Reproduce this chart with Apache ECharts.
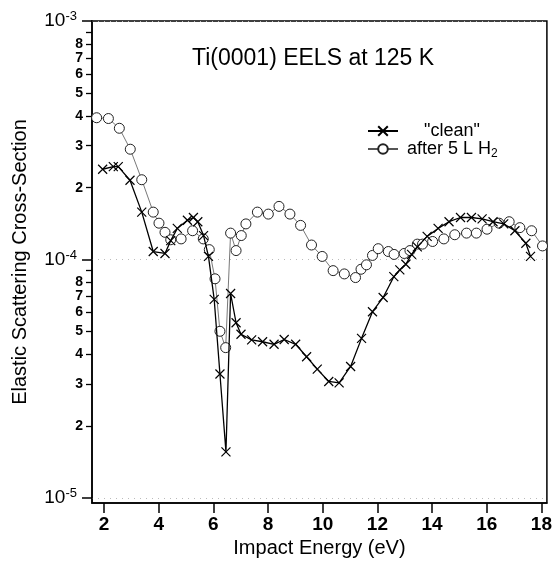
<!DOCTYPE html>
<html><head><meta charset="utf-8">
<script src="https://cdn.jsdelivr.net/npm/echarts@6/dist/echarts.min.js"></script>
<style>html,body{margin:0;padding:0;background:#fff}#c{width:555px;height:568px}</style>
</head><body><div id="c"></div>
<script>
// "clean" series
const cleanE = [1.95,2.34,2.52,2.95,3.38,3.80,4.23,4.44,4.68,5.05,5.27,5.43,5.64,5.82,6.03,6.24,6.46,6.63,6.83,7.01,7.40,7.80,8.22,8.59,9.01,9.41,9.80,10.22,10.60,11.02,11.42,11.82,12.21,12.60,12.82,13.04,13.25,13.46,13.82,14.22,14.62,15.04,15.44,15.83,16.23,16.62,17.03,17.43,17.60];
const cleanV = [2.39e-4,2.45e-4,2.45e-4,2.15e-4,1.58e-4,1.08e-4,1.06e-4,1.20e-4,1.35e-4,1.46e-4,1.50e-4,1.44e-4,1.26e-4,1.03e-4,6.8e-5,3.31e-5,1.56e-5,7.2e-5,5.43e-5,4.86e-5,4.60e-5,4.52e-5,4.41e-5,4.62e-5,4.41e-5,3.91e-5,3.47e-5,3.08e-5,3.04e-5,3.56e-5,4.67e-5,6.04e-5,6.93e-5,8.47e-5,9.04e-5,9.55e-5,1.05e-4,1.13e-4,1.25e-4,1.35e-4,1.44e-4,1.50e-4,1.50e-4,1.48e-4,1.44e-4,1.41e-4,1.32e-4,1.17e-4,1.03e-4];
// "after 5 L H2" series
const h2E = [1.73,2.16,2.56,2.96,3.38,3.80,4.01,4.23,4.44,4.82,5.24,5.63,5.85,6.06,6.24,6.45,6.63,6.83,7.02,7.19,7.61,8.01,8.40,8.80,9.19,9.59,9.98,10.38,10.79,11.20,11.40,11.60,11.82,12.03,12.40,12.61,12.98,13.19,13.46,13.65,14.02,14.43,14.83,15.26,15.62,16.01,16.45,16.82,17.21,17.64,18.04];
const h2V = [3.93e-4,3.90e-4,3.55e-4,2.90e-4,2.16e-4,1.58e-4,1.42e-4,1.30e-4,1.21e-4,1.22e-4,1.32e-4,1.22e-4,1.10e-4,8.3e-5,5.0e-5,4.27e-5,1.29e-4,1.09e-4,1.26e-4,1.41e-4,1.58e-4,1.55e-4,1.67e-4,1.55e-4,1.39e-4,1.15e-4,1.03e-4,8.98e-5,8.7e-5,8.4e-5,9.1e-5,9.5e-5,1.04e-4,1.11e-4,1.08e-4,1.05e-4,1.06e-4,1.09e-4,1.16e-4,1.16e-4,1.19e-4,1.22e-4,1.27e-4,1.29e-4,1.29e-4,1.34e-4,1.42e-4,1.44e-4,1.36e-4,1.32e-4,1.14e-4];

const xTicks = [2,4,6,8,10,12,14,16,18];
const yMajor = [1e-5,1e-4,1e-3];
const yMinorTicks = [2e-5,3e-5,4e-5,5e-5,6e-5,7e-5,8e-5,9e-5,2e-4,3e-4,4e-4,5e-4,6e-4,7e-4,8e-4,9e-4];
const yMinorLabels = [2e-5,3e-5,4e-5,5e-5,6e-5,7e-5,8e-5,2e-4,3e-4,4e-4,5e-4,6e-4,7e-4,8e-4];

const FONT = '"Liberation Sans", Arial, Helvetica, sans-serif';
const chart = echarts.init(document.getElementById('c'));
const zip = (a, b) => a.map((x, i) => [x, b[i]]);
const yMin = Math.pow(10, -5.021), yMax = 1e-3;

chart.setOption({
  animation: false,
  backgroundColor: '#fff',
  textStyle: { fontFamily: FONT, color: '#000' },
  title: {
    text: 'Ti(0001) EELS at 125 K', left: 192, top: 47, padding: 0,
    textStyle: { fontFamily: FONT, fontSize: 23, fontWeight: 'normal', color: '#000' }
  },
  legend: [
    { data: ['"clean"'], left: 367, top: 122, padding: 0, itemWidth: 30, itemHeight: 12,
      formatter: '{a|"clean"}',
      textStyle: { fontFamily: FONT, fontSize: 18, color: '#000', rich: { a: { fontFamily: FONT, fontSize: 18, padding: [0,0,0,21] } } } },
    { data: ['after 5 L H2'], left: 367, top: 140, padding: 0, itemWidth: 30, itemHeight: 12,
      formatter: '{a|after 5 L H}{s|2}',
      textStyle: { fontFamily: FONT, fontSize: 18, color: '#000', rich: {
        a: { fontFamily: FONT, fontSize: 18, lineHeight: 22, padding: [0,0,0,4] },
        s: { fontFamily: FONT, fontSize: 12, verticalAlign: 'bottom', lineHeight: 12 } } } }
  ],
  grid: { left: 92, right: 8, top: 21, bottom: 65, show: true, borderColor: '#000', borderWidth: 1.5, backgroundColor: 'transparent' },
  xAxis: {
    type: 'value', min: 1.56, max: 18.2,
    name: 'Impact Energy (eV)', nameLocation: 'middle', nameGap: 27,
    nameTextStyle: { fontFamily: FONT, fontSize: 20, color: '#000' },
    axisLine: { lineStyle: { color: '#000', width: 1.5 } },
    axisTick: { customValues: xTicks, length: 10, lineStyle: { color: '#000', width: 1.5 } },
    axisLabel: { customValues: xTicks, margin: 12, fontFamily: FONT, fontSize: 19, fontWeight: 'bold', color: '#000' },
    splitLine: { show: false }
  },
  yAxis: [
    {
      type: 'log', logBase: 10, min: yMin, max: yMax, position: 'left',
      name: 'Elastic Scattering Cross-Section', nameLocation: 'middle', nameGap: 62,
      nameTextStyle: { fontFamily: FONT, fontSize: 20, color: '#000' },
      axisLine: { show: true, lineStyle: { color: '#000', width: 1.5 } },
      axisTick: { customValues: yMajor, length: 10, lineStyle: { color: '#000', width: 1.5 } },
      axisLabel: {
        customValues: yMajor, margin: 15,
        formatter: v => '{b|10}{s|' + Math.round(Math.log10(v)) + '}',
        rich: {
          b: { fontFamily: FONT, fontSize: 19, lineHeight: 22, color: '#000' },
          s: { fontFamily: FONT, fontSize: 13, verticalAlign: 'top', lineHeight: 13, color: '#000' }
        }
      },
      splitLine: { show: true, lineStyle: { color: '#bbb', width: 1, type: [1, 5] } }
    },
    {
      type: 'log', logBase: 10, min: yMin, max: yMax, position: 'left',
      axisLine: { show: false },
      axisTick: { customValues: yMinorTicks, length: 6, lineStyle: { color: '#000', width: 1.3 } },
      axisLabel: {
        customValues: yMinorLabels, margin: 9, fontFamily: FONT, fontSize: 14, fontWeight: 'bold', color: '#000',
        formatter: v => String(Math.round(v / Math.pow(10, Math.floor(Math.log10(v) + 1e-9))))
      },
      splitLine: { show: false }
    }
  ],
  series: [
    {
      name: 'after 5 L H2', type: 'line', yAxisIndex: 0, data: zip(h2E, h2V),
      symbol: 'circle', symbolSize: 10,
      itemStyle: { color: '#fff', borderColor: '#222', borderWidth: 1 },
      lineStyle: { color: '#555', width: 0.8 }, z: 2
    },
    {
      name: '"clean"', type: 'line', yAxisIndex: 0, data: zip(cleanE, cleanV),
      symbol: 'path://M0,0L10,10M10,0L0,10', symbolSize: 9,
      itemStyle: { color: '#000', borderColor: '#000', borderWidth: 1.2 },
      lineStyle: { color: '#000', width: 1.3 }, z: 3
    }
  ]
});
</script></body></html>
